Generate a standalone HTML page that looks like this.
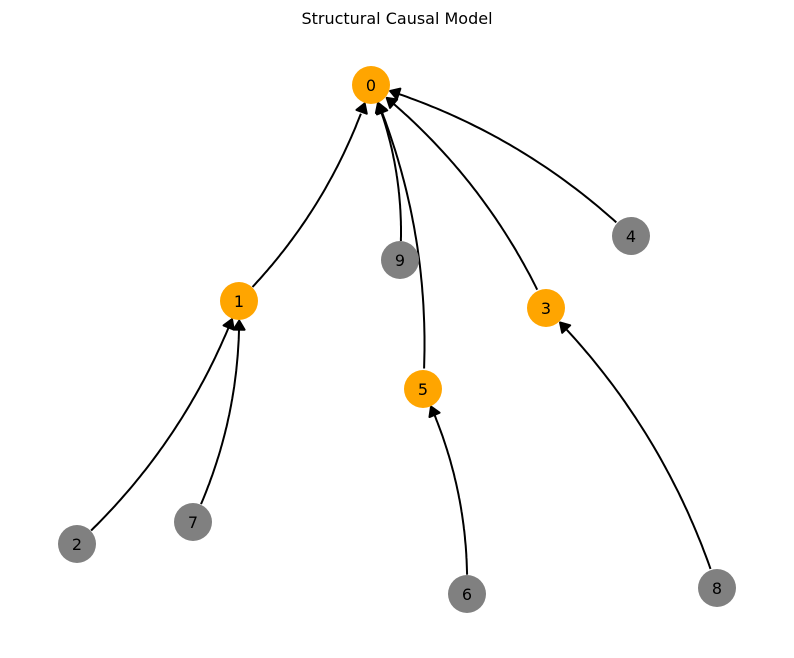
<!DOCTYPE html>
<html><head><meta charset="utf-8"><style>
html,body{margin:0;padding:0;background:#fff}
svg{display:block}
text{font-family:"DejaVu Sans","Liberation Sans",sans-serif}
</style></head><body>
<svg id="s" width="794" height="658" viewBox="0 0 794 658" xmlns="http://www.w3.org/2000/svg">
<rect width="794" height="658" fill="#fff"/>
<text x="397" y="24" font-size="16" text-anchor="middle" fill="#000">Structural Causal Model</text>
<g id="edges"></g>
<g id="nodes">
<circle cx="371" cy="85" r="19" fill="#FFA500"/>
<circle cx="239" cy="301" r="19" fill="#FFA500"/>
<circle cx="77" cy="544" r="19" fill="#808080"/>
<circle cx="546" cy="308" r="19" fill="#FFA500"/>
<circle cx="631" cy="236" r="19" fill="#808080"/>
<circle cx="423" cy="389" r="19" fill="#FFA500"/>
<circle cx="467" cy="594" r="19" fill="#808080"/>
<circle cx="193" cy="522" r="19" fill="#808080"/>
<circle cx="717" cy="588" r="19" fill="#808080"/>
<circle cx="400" cy="260" r="19" fill="#808080"/>
</g>
<g font-size="16" text-anchor="middle" fill="#000">
<text x="371" y="91">0</text>
<text x="239" y="307">1</text>
<text x="77" y="550">2</text>
<text x="546" y="314">3</text>
<text x="631" y="242">4</text>
<text x="423" y="395">5</text>
<text x="467" y="600">6</text>
<text x="193" y="528">7</text>
<text x="717" y="594">8</text>
<text x="400" y="266">9</text>
</g>
</svg>
<script>
var P={0:[371,85],1:[239,301],2:[77,544],3:[546,308],4:[631,236],5:[423,389],6:[467,594],7:[193,522],8:[717,588],9:[400,260]};
var E=[[1,0],[9,0],[5,0],[3,0],[4,0],[2,1],[7,1],[6,5],[8,3]];
var g=document.getElementById('edges'),h='';
function B(a,c,b,t){var u=1-t;return [u*u*a[0]+2*u*t*c[0]+t*t*b[0],u*u*a[1]+2*u*t*c[1]+t*t*b[1]];}
E.forEach(function(e){
 var a=P[e[0]],b=P[e[1]],dx=b[0]-a[0],dy=b[1]-a[1],k=0.12;
 var c=[(a[0]+b[0])/2-k*dy,(a[1]+b[1])/2+k*dx];
 var t0=0,t1=1,i;
 for(i=0;i<200;i++){var t=i/200,p=B(a,c,b,t);if(Math.hypot(p[0]-a[0],p[1]-a[1])>19){t0=t;break;}}
 for(i=200;i>0;i--){var t=i/200,p=B(a,c,b,t);if(Math.hypot(p[0]-b[0],p[1]-b[1])>19){t1=t;break;}}
 var tip=B(a,c,b,t1),pr=B(a,c,b,t1-0.01);
 var ux=tip[0]-pr[0],uy=tip[1]-pr[1],L=Math.hypot(ux,uy);ux/=L;uy/=L;
 var bl=9,bw=5.5,bx=tip[0]-ux*bl,by=tip[1]-uy*bl;
 var d='M';var N=60;
 for(i=0;i<=N;i++){var t=t0+(t1-t0)*i/N,p=B(a,c,b,t);if(Math.hypot(p[0]-tip[0],p[1]-tip[1])<bl-1&&i>0)break;d+=(i?' L':'')+p[0].toFixed(1)+' '+p[1].toFixed(1);}
 h+='<path d="'+d+'" fill="none" stroke="#000" stroke-width="2"/>';
 h+='<polygon points="'+tip[0]+','+tip[1]+' '+(bx-uy*bw)+','+(by+ux*bw)+' '+(bx+uy*bw)+','+(by-ux*bw)+'" fill="#000" stroke="#000" stroke-width="2" stroke-linejoin="round"/>';
});
g.innerHTML=h;
</script>
</body></html>
